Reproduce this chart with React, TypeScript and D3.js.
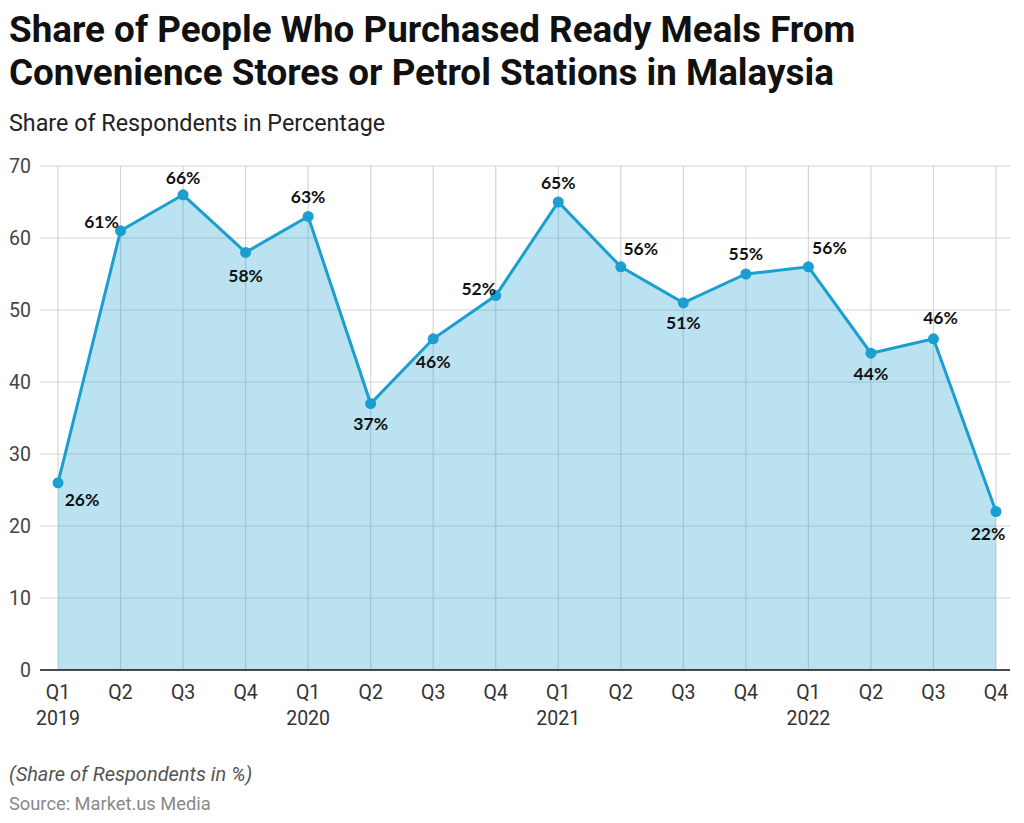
import React from "react";
import * as d3 from "d3";

const quarters = ["Q1", "Q2", "Q3", "Q4", "Q1", "Q2", "Q3", "Q4", "Q1", "Q2", "Q3", "Q4", "Q1", "Q2", "Q3", "Q4"];
const years = ["2019", "", "", "", "2020", "", "", "", "2021", "", "", "", "2022", "", "", ""];
const values = [26, 61, 66, 58, 63, 37, 46, 52, 65, 56, 51, 55, 56, 44, 46, 22];
const yTicks = [0, 10, 20, 30, 40, 50, 60, 70];
// label placement offsets (dx, dy) relative to point
const labelOffsets: [number, number][] = [
  [24, 17], [-19, -9], [0, -17], [0, 24], [0, -19], [0, 20], [0, 23], [-17, -7],
  [0, -19], [20, -18], [0, 20], [0, -20], [21, -19], [0, 21], [7, -21], [-8, 22],
];

const W = 1024, H = 823;
const x0 = 58, x1 = 996, yTop = 166, yBot = 670;

export default function App() {
  const x = d3.scaleLinear().domain([0, values.length - 1]).range([x0, x1]);
  const y = d3.scaleLinear().domain([0, 70]).range([yBot, yTop]);
  const line = d3.line<number>().x((_, i) => x(i)).y((d) => y(d));
  const area = d3.area<number>().x((_, i) => x(i)).y0(y(0)).y1((d) => y(d));
  const color = "#1a9fd0";
  const font = "Roboto, sans-serif";
  return (
    <svg width={W} height={H} style={{ position: "absolute", left: 0, top: 0 }} fontFamily={font}>
      <rect width={W} height={H} fill="#fff" />
      <text x={9} y={42} fontSize={36.8} fontWeight={700} fill="#111">Share of People Who Purchased Ready Meals From</text>
      <text x={9} y={85} fontSize={36.8} fontWeight={700} fill="#111">Convenience Stores or Petrol Stations in Malaysia</text>
      <text x={9} y={131} fontSize={23.3} fill="#222">Share of Respondents in Percentage</text>
      {yTicks.map((t) => (
        <g key={t}>
          {t > 0 && <line x1={40} x2={1010} y1={y(t)} y2={y(t)} stroke="#d6d6d6" strokeWidth={1.2} />}
          <text x={31} y={y(t) + 7} textAnchor="end" fontSize={19.5} fill="#444">{t}</text>
        </g>
      ))}
      {values.map((_, i) => (
        <line key={i} x1={x(i)} x2={x(i)} y1={yTop} y2={yBot} stroke="#d6d6d6" strokeWidth={1.2} />
      ))}
      <path d={area(values) || ""} fill={color} fillOpacity={0.3} />
      <line x1={40} x2={1010} y1={y(0)} y2={y(0)} stroke="#111" strokeWidth={1.5} />
      <path d={line(values) || ""} fill="none" stroke={color} strokeWidth={3} />
      {values.map((v, i) => (
        <circle key={i} cx={x(i)} cy={y(v)} r={5.5} fill={color} />
      ))}
      {values.map((v, i) => (
        <text key={i} x={x(i) + labelOffsets[i][0]} y={y(v) + labelOffsets[i][1] + 6} textAnchor="middle"
          fontFamily="Lato, sans-serif" fontWeight={700} fontSize={17.5} fill="#111">{v}%</text>
      ))}
      {quarters.map((q, i) => (
        <g key={i}>
          <text x={x(i)} y={699} textAnchor="middle" fontSize={19.5} fill="#333">{q}</text>
          {years[i] && <text x={x(i)} y={725} textAnchor="middle" fontSize={19.5} fill="#333">{years[i]}</text>}
        </g>
      ))}
      <text x={9} y={781} fontSize={20} fontStyle="italic" fill="#555">(Share of Respondents in %)</text>
      <text x={9} y={810} fontSize={18.3} fill="#888">Source: Market.us Media</text>
    </svg>
  );
}
